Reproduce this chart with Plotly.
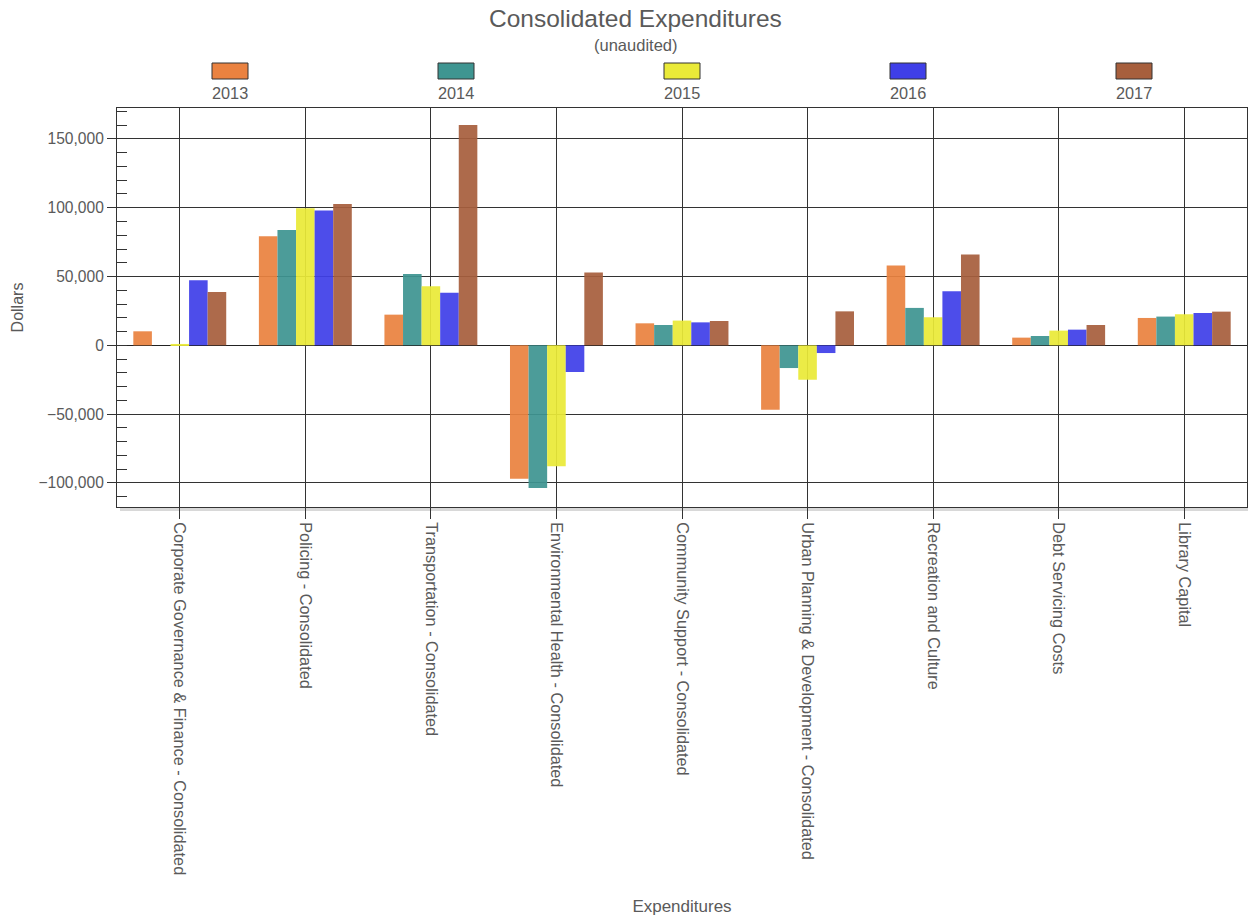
import plotly.graph_objects as go

categories = [
    "Corporate Governance & Finance - Consolidated",
    "Policing - Consolidated",
    "Transportation - Consolidated",
    "Environmental Health - Consolidated",
    "Community Support - Consolidated",
    "Urban Planning & Development - Consolidated",
    "Recreation and Culture",
    "Debt Servicing Costs",
    "Library Capital",
]
years = ["2013", "2014", "2015", "2016", "2017"]
v2013 = [10200, 79300, 22300, -97000, 16000, -46800, 58000, 5600, 19900]
v2014 = [0, 83900, 51900, -103600, 14800, -16500, 27200, 6800, 20900]
v2015 = [1000, 99700, 42900, -87800, 18000, -25000, 20400, 10700, 22600]
v2016 = [47300, 98000, 38300, -19400, 16700, -5600, 39300, 11400, 23500]
v2017 = [38800, 102800, 160100, 52900, 17700, 24700, 66000, 14800, 24500]
series = [v2013, v2014, v2015, v2016, v2017]
colors = ["#EA8240", "#3E9591", "#EAEA38", "#3F3FE8", "#A75F3D"]

fig = go.Figure()
for name, vals, col in zip(years, series, colors):
    fig.add_trace(go.Bar(
        x=categories, y=vals, name=name,
        marker=dict(color=col, opacity=0.93, line=dict(width=0)),
        showlegend=False,
    ))

font_col = "#5a5a5a"
# custom legend: box above label
shapes = []
annotations = []
for i, (name, col) in enumerate(zip(years, colors)):
    cx = 0.1 + 0.2 * i
    half = 18 / 1130
    shapes.append(dict(type="rect", xref="paper", yref="paper",
                       x0=cx - half, x1=cx + half,
                       y0=1 + 29 / 399, y1=1 + 45 / 399,
                       fillcolor=col, line=dict(color="#333333", width=1)))
    annotations.append(dict(text=name, xref="paper", yref="paper",
                            x=cx, y=1 + 15 / 399, showarrow=False,
                            font=dict(size=16.3, color=font_col),
                            xanchor="center", yanchor="middle"))

annotations.append(dict(text="Consolidated Expenditures", xref="paper", yref="paper",
                        x=(635 - 117) / 1130, y=1 + 90 / 399, showarrow=False,
                        font=dict(size=24.5, color=font_col),
                        xanchor="center", yanchor="middle"))
annotations.append(dict(text="(unaudited)", xref="paper", yref="paper",
                        x=(635 - 117) / 1130, y=1 + 63 / 399, showarrow=False,
                        font=dict(size=16.5, color=font_col),
                        xanchor="center", yanchor="middle"))
# shadow of plot frame
shapes.insert(0, dict(type="rect", xref="paper", yref="paper",
                      x0=3 / 1130, x1=1 + 3 / 1130, y0=-4 / 399, y1=1 - 3 / 399,
                      fillcolor="#d8d8d8", line=dict(width=0), layer="below"))
shapes.insert(1, dict(type="rect", xref="paper", yref="paper",
                      x0=0, x1=1, y0=0, y1=1,
                      fillcolor="white", line=dict(width=0), layer="below"))

fig.update_layout(
    width=1248, height=921,
    margin=dict(l=117, r=1, t=108, b=414),
    paper_bgcolor="white", plot_bgcolor="rgba(0,0,0,0)",
    barmode="group", bargap=0.26, bargroupgap=0,
    font=dict(family="Liberation Sans, Arial, sans-serif", color=font_col, size=14),
    shapes=shapes, annotations=annotations,
    xaxis=dict(
        showgrid=True, gridcolor="#333333", gridwidth=1,
        ticks="outside", ticklen=11, tickcolor="#333333",
        tickangle=90, tickfont=dict(size=16.3, color=font_col),
        showline=True, linecolor="#333333", linewidth=1, mirror=True,
        title=dict(text="Expenditures", font=dict(size=17, color=font_col), standoff=25),
    ),
    yaxis=dict(
        range=[-117500, 172500],
        dtick=50000, tickformat=",d",
        showgrid=True, gridcolor="#333333", gridwidth=1,
        zeroline=True, zerolinecolor="#222222", zerolinewidth=1,
        ticks="outside", ticklen=9, tickcolor="#333333",
        minor=dict(dtick=10000, ticks="inside", ticklen=10, tickcolor="#333333", showgrid=False),
        tickfont=dict(size=15.6, color=font_col),
        showline=True, linecolor="#333333", linewidth=1, mirror=True,
        title=dict(text="Dollars", font=dict(size=16, color=font_col), standoff=10),
    ),
)

fig.write_html("out.html")
